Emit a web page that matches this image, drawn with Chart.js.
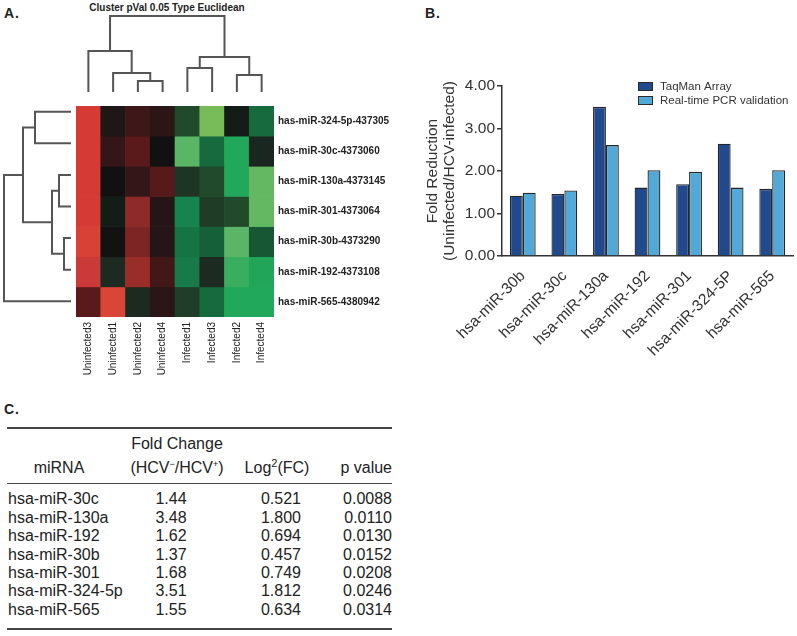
<!DOCTYPE html>
<html>
<head>
<meta charset="utf-8">
<script src="https://cdn.jsdelivr.net/npm/chart.js@4/dist/chart.umd.min.js"></script>
<style>
  body { margin: 0; background: #fff; font-family: "Liberation Sans", Arial, Helvetica, sans-serif; color: #222; }
  #page { position: relative; width: 797px; height: 636px; overflow: hidden; }
  .box { position: absolute; }
  .panel { position: absolute; font-weight: bold; font-size: 14px; letter-spacing: 1px; color: #222; }
  #clusterTitle { position: absolute; left: 60px; width: 214px; top: 2px; text-align: center; font-weight: bold; font-size: 10px; color: #222; }
  #tbl { position: absolute; left: 7px; top: 427px; width: 385px; border-collapse: collapse; table-layout: fixed; font-size: 16px; color: #222; }
  #tbl th { font-weight: normal; line-height: 20px; padding: 0; vertical-align: bottom; }
  #tbl thead tr { border-top: 2px solid #444; border-bottom: 1.5px solid #444; }
  #tbl thead th { padding-top: 5px; padding-bottom: 5px; }
  #tbl tbody tr:last-child { border-bottom: 2px solid #444; }
  #tbl tbody tr:last-child td { padding-bottom: 9px; }
  #tbl tbody tr:first-child td { padding-top: 6px; }
  #tbl td { padding: 0; line-height: 18.4px; white-space: nowrap; }
  .c1 { text-align: left; }
  .c2 { text-align: center; }
  .c3 { text-align: center; }
  .c4 { text-align: right; }
</style>
</head>
<body>
<div id="page">
  <div class="panel" style="left:4px; top:5px;">A.</div>
  <div class="panel" style="left:425px; top:5px;">B.</div>
  <div class="panel" style="left:4px; top:401px;">C.</div>
  <div id="clusterTitle">Cluster pVal 0.05 Type Euclidean</div>

  <div class="box" style="left:76px; top:12px; width:198px; height:84px;"><canvas id="topTree" width="198" height="84"></canvas></div>
  <div class="box" style="left:0px; top:96px; width:76px; height:221px;"><canvas id="leftTree" width="76" height="221"></canvas></div>
  <div class="box" style="left:76px; top:96px; width:323px; height:281px;"><canvas id="heat" width="323" height="281"></canvas></div>
  <div class="box" style="left:400px; top:60px; width:397px; height:300px;"><canvas id="bars" width="397" height="300"></canvas></div>

  <table id="tbl">
    <colgroup><col style="width:96px"><col style="width:138px"><col style="width:80px"><col style="width:71px"></colgroup>
    <thead>
      <tr>
        <th class="c2" style="padding-left:8px">miRNA</th>
        <th class="c2" style="padding-left:10px">Fold Change<br>(HCV<sup style="font-size:9px">&minus;</sup>/HCV<sup style="font-size:9px">+</sup>)</th>
        <th class="c3" style="padding-right:8px">Log<sup style="font-size:11px">2</sup>(FC)</th>
        <th class="c4">p value</th>
      </tr>
    </thead>
    <tbody id="tbody"></tbody>
  </table>
</div>

<script>
// ---- panel A: heatmap ----
const colNames = ["Uninfected3", "Uninfected1", "Uninfected2", "Uninfected4", "Infected1", "Infected3", "Infected2", "Infected4"];
const rowNames = ["has-miR-324-5p-437305", "has-miR-30c-4373060", "has-miR-130a-4373145", "has-miR-301-4373064",
                  "has-miR-30b-4373290", "has-miR-192-4373108", "has-miR-565-4380942"];
// relative expression (red = up, green = down)
const row324 = [0.90, 0.15, 0.35, 0.25, -0.40, -1.00, -0.10, -0.55];
const row30c = [0.90, 0.30, 0.45, 0.00, -0.92, -0.55, -0.85, -0.18];
const row130a = [0.90, 0.00, 0.30, 0.44, -0.28, -0.40, -0.85, -0.95];
const row301 = [0.90, -0.10, 0.70, 0.22, -0.70, -0.32, -0.40, -0.95];
const row30b = [0.95, 0.02, 0.60, 0.22, -0.60, -0.52, -0.92, -0.48];
const row192 = [0.80, -0.20, 0.72, 0.36, -0.64, -0.20, -0.88, -0.84];
const row565 = [0.45, 0.97, -0.20, 0.25, -0.33, -0.55, -0.85, -0.85];
const heatRows = [row324, row30c, row130a, row301, row30b, row192, row565];

// dendrograms: [left node, right node, merge distance]; leaves are 0..n-1, merge k gets id n+k
const colMerges = [[2, 3, 11], [1, 8, 19], [0, 9, 41], [4, 5, 24], [6, 7, 17], [11, 12, 35], [10, 13, 76]];
const rowMerges = [[0, 1, 36], [2, 3, 12], [4, 5, 7], [8, 9, 19], [7, 10, 48], [11, 6, 67]];

// ---- panel B: bar chart ----
const mirLabels = ["hsa-miR-30b", "hsa-miR-30c", "hsa-miR-130a", "hsa-miR-192", "hsa-miR-301", "hsa-miR-324-5P", "hsa-miR-565"];
const taqman = [1.42, 1.46, 3.51, 1.61, 1.69, 2.64, 1.58];
const realtime = [1.49, 1.54, 2.61, 2.02, 1.98, 1.61, 2.02];
const yTicks = [0, 1, 2, 3, 4];

// ---- panel C: table ----
const tMirna = ["hsa-miR-30c", "hsa-miR-130a", "hsa-miR-192", "hsa-miR-30b", "hsa-miR-301", "hsa-miR-324-5p", "hsa-miR-565"];
const tFold = ["1.44", "3.48", "1.62", "1.37", "1.68", "3.51", "1.55"];
const tLog2 = ["0.521", "1.800", "0.694", "0.457", "0.749", "1.812", "0.634"];
const tPval = ["0.0088", "0.0110", "0.0130", "0.0152", "0.0208", "0.0246", "0.0314"];

Chart.defaults.font.family = '"Liberation Sans", Arial, Helvetica, sans-serif';
Chart.defaults.animation = false;
Chart.defaults.plugins.tooltip.enabled = false;

// colour scale for the heatmap
const redStops = [[0, '#111111'], [0.15, '#1e1617'], [0.25, '#2a1517'], [0.35, '#3e1718'], [0.45, '#5a1a1b'],
                  [0.6, '#7c2524'], [0.7, '#8e2a27'], [0.8, '#c93a38'], [0.9, '#d63a35'], [1, '#da4a37']];
const greenStops = [[0, '#111111'], [0.1, '#141c17'], [0.2, '#1c2a22'], [0.3, '#1e3826'], [0.4, '#214a2d'], [0.5, '#155a34'],
                    [0.55, '#166a3d'], [0.7, '#178450'], [0.85, '#22a85a'], [0.92, '#5ab566'], [1, '#78bc5a']];

function hex2rgb(h) {
    return [parseInt(h.slice(1, 3), 16), parseInt(h.slice(3, 5), 16), parseInt(h.slice(5, 7), 16)];
}
function heatColor(v) {
    const stops = v >= 0 ? redStops : greenStops;
    const a = Math.min(1, Math.abs(v));
    for (let i = 1; i < stops.length; i++) {
        if (a <= stops[i][0]) {
            const t = (a - stops[i - 1][0]) / (stops[i][0] - stops[i - 1][0]);
            const c0 = hex2rgb(stops[i - 1][1]), c1 = hex2rgb(stops[i][1]);
            const c = c0.map((x, k) => Math.round(x + (c1[k] - x) * t));
            return `rgb(${c[0]},${c[1]},${c[2]})`;
        }
    }
    return stops[stops.length - 1][1];
}

// turn merges into line segments (U shapes)
function treeLines(n, merges) {
    const pos = [], hgt = [];
    for (let i = 0; i < n; i++) { pos.push(i); hgt.push(0); }
    return merges.map(([a, b, h]) => {
        const seg = [[pos[a], hgt[a]], [pos[a], h], [pos[b], h], [pos[b], hgt[b]]];
        pos.push((pos[a] + pos[b]) / 2);
        hgt.push(h);
        return seg;
    });
}

const treeStyle = { showLine: true, pointRadius: 0, borderColor: '#555', borderWidth: 2, fill: false, clip: false };

// top dendrogram (columns)
new Chart(document.getElementById('topTree'), {
    type: 'scatter',
    data: {
        datasets: treeLines(colNames.length, colMerges).map(seg => ({
            ...treeStyle, data: seg.map(([p, h]) => ({ x: p, y: h }))
        }))
    },
    options: {
        responsive: false,
        layout: { padding: { top: 4, bottom: 4, left: 0, right: 0 } },
        plugins: { legend: { display: false } },
        scales: {
            x: { display: false, min: -0.5, max: colNames.length - 0.5 },
            y: { display: false, min: 0, max: 76 }
        }
    }
});

// left dendrogram (rows)
new Chart(document.getElementById('leftTree'), {
    type: 'scatter',
    data: {
        datasets: treeLines(rowNames.length, rowMerges).map(seg => ({
            ...treeStyle, data: seg.map(([p, h]) => ({ x: h, y: p }))
        }))
    },
    options: {
        responsive: false,
        layout: { padding: { top: 0, bottom: 0, left: 4, right: 5 } },
        plugins: { legend: { display: false } },
        scales: {
            x: { display: false, min: 0, max: 67, reverse: true },
            y: { display: false, min: -0.5, max: rowNames.length - 0.5, reverse: true }
        }
    }
});

// heatmap: one stacked dataset per row, one bar per column
new Chart(document.getElementById('heat'), {
    type: 'bar',
    data: {
        labels: colNames,
        datasets: heatRows.map((vals, i) => ({
            label: rowNames[i],
            data: vals.map(() => 1),
            backgroundColor: vals.map(heatColor),
            borderWidth: 0,
            barPercentage: 1,
            categoryPercentage: 1
        }))
    },
    options: {
        responsive: false,
        layout: { padding: 0 },
        plugins: { legend: { display: false } },
        scales: {
            x: {
                stacked: true,
                grid: { display: false, drawTicks: false },
                border: { display: false },
                ticks: { minRotation: 90, maxRotation: 90, autoSkip: false, padding: 5, color: '#222', font: { size: 10 } },
                afterFit: s => { s.height = 60; }
            },
            y: {
                stacked: true, min: 0, max: rowNames.length, reverse: true, position: 'right',
                grid: { display: false, drawTicks: false },
                border: { display: false },
                afterBuildTicks: s => { s.ticks = rowNames.map((_, i) => ({ value: i + 0.5 })); },
                ticks: { autoSkip: false, padding: 4, color: '#222', font: { size: 10, weight: 'bold' },
                         callback: (v, i) => rowNames[i] },
                afterFit: s => { s.width = 125; }
            }
        }
    }
});

// legend drawn inside the plot area, top right
const insideLegend = {
    id: 'insideLegend',
    afterDraw(chart) {
        const { ctx, chartArea } = chart;
        ctx.save();
        ctx.font = '11.5px "Liberation Sans", Arial, sans-serif';
        ctx.textBaseline = 'middle';
        chart.data.datasets.forEach((ds, i) => {
            const x = chartArea.left + 136, y = chartArea.top - 4 + i * 14;
            ctx.fillStyle = ds.backgroundColor;
            ctx.fillRect(x, y, 15, 9);
            ctx.strokeStyle = '#2b2b2b';
            ctx.lineWidth = 1;
            ctx.strokeRect(x + 0.5, y + 0.5, 14, 8);
            ctx.fillStyle = '#333';
            ctx.fillText(ds.label, x + 22, y + 5);
        });
        ctx.restore();
    }
};

new Chart(document.getElementById('bars'), {
    type: 'bar',
    data: {
        labels: mirLabels,
        datasets: [
            { label: 'TaqMan Array', data: taqman, backgroundColor: '#21498e',
              borderColor: '#262626', borderWidth: 1.3, borderSkipped: 'bottom', categoryPercentage: 0.62, barPercentage: 1 },
            { label: 'Real-time PCR validation', data: realtime, backgroundColor: '#52a9d7',
              borderColor: '#262626', borderWidth: 1.3, borderSkipped: 'bottom', categoryPercentage: 0.62, barPercentage: 1 }
        ]
    },
    options: {
        responsive: false,
        layout: { padding: { top: 26, right: 4, left: 0, bottom: 0 } },
        plugins: { legend: { display: false } },
        scales: {
            x: {
                grid: { display: false },
                border: { color: '#333', width: 1.5 },
                ticks: { minRotation: 45, maxRotation: 45, autoSkip: false, padding: 3, color: '#333', font: { size: 15.5 } },
                afterFit: s => { s.height = 104; }
            },
            y: {
                min: 0, max: 4,
                afterBuildTicks: s => { s.ticks = yTicks.map(v => ({ value: v })); },
                grid: { drawOnChartArea: false, tickLength: 5, color: '#333', lineWidth: 1.5 },
                border: { color: '#333', width: 1.5 },
                ticks: { padding: 2, color: '#333', font: { size: 15.5 }, callback: v => v.toFixed(2) },
                title: { display: true, text: ['Fold Reduction', '(Uninfected/HCV-infected)'], color: '#333',
                         font: { size: 15.5, lineHeight: 1.1 }, padding: { top: 24, bottom: 0 } },
                afterFit: s => { s.width = 102; }
            }
        }
    },
    plugins: [insideLegend]
});

// table rows
const tbody = document.getElementById('tbody');
tMirna.forEach((m, i) => {
    const tr = document.createElement('tr');
    tr.innerHTML = `<td class="c1" style="padding-left:1px">${m}</td><td class="c2" style="padding-right:2px">${tFold[i]}</td>` +
                   `<td class="c3">${tLog2[i]}</td><td class="c4">${tPval[i]}</td>`;
    tbody.appendChild(tr);
});
</script>
</body>
</html>
